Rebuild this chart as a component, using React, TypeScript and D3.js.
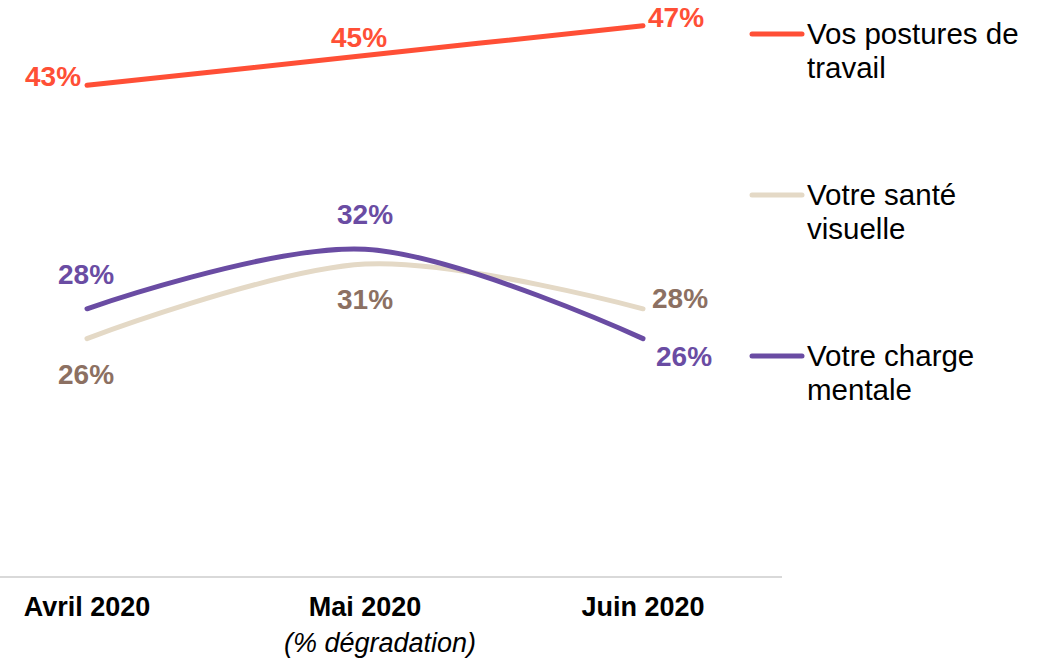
import React from "react";
import * as d3 from "d3";

const months = ["Avril 2020", "Mai 2020", "Juin 2020"];
const seriesNames = ["Vos postures de travail", "Votre santé visuelle", "Votre charge mentale"];
const postures = [43, 45, 47];
const santeVisuelle = [26, 31, 28];
const chargeMentale = [28, 32, 26];
const axisNote = "(% dégradation)";

const W = 1041;
const H = 659;
const FONT = "'Liberation Sans', Arial, Helvetica, sans-serif";

type Series = {
  name: string[];
  values: number[];
  line: string;
  label: string;
  offsets: [number, number][];
  legendY: number;
};

export default function App() {
  const x = d3.scalePoint<string>().domain(months).range([87, 643]);
  const y = d3.scaleLinear().domain([10, 50]).range([577, -19]);

  const series: Series[] = [
    {
      name: ["Vos postures de", "travail"],
      values: postures,
      line: "#FF4F36",
      label: "#FF4F36",
      offsets: [[-34, -9], [-6, -18], [33, -9]],
      legendY: 34,
    },
    {
      name: ["Votre santé", "visuelle"],
      values: santeVisuelle,
      line: "#E4D9C6",
      label: "#8C7062",
      offsets: [[-1, 36], [0, 35], [37, -11]],
      legendY: 195,
    },
    {
      name: ["Votre charge", "mentale"],
      values: chargeMentale,
      line: "#6A4CA3",
      label: "#6A4CA3",
      offsets: [[-1, -35], [0, -35], [41, 18]],
      legendY: 356,
    },
  ];
  void seriesNames;

  const lineGen = d3
    .line<number>()
    .x((_, i) => x(months[i]) as number)
    .y((d) => y(d))
    .curve(d3.curveCatmullRom.alpha(0));

  const order = [1, 2, 0];

  return (
    <svg
      width={W}
      height={H}
      style={{ position: "fixed", left: 0, top: 0, background: "#fff" }}
      fontFamily={FONT}
    >
      <line x1={0} x2={782} y1={y(10)} y2={y(10)} stroke="#D9D9D9" strokeWidth={2} />
      {months.map((m) => (
        <text
          key={m}
          x={x(m)}
          y={616}
          textAnchor="middle"
          fontSize={27}
          fontWeight="bold"
          fill="#000"
        >
          {m}
        </text>
      ))}
      <text x={x(months[1])! + 15} y={652} textAnchor="middle" fontSize={27} fontStyle="italic" fill="#000">
        {axisNote}
      </text>

      {order.map((si) => {
        const s = series[si];
        return (
          <path
            key={"l" + si}
            d={lineGen(s.values) || ""}
            fill="none"
            stroke={s.line}
            strokeWidth={5}
            strokeLinecap="round"
          />
        );
      })}

      {series.map((s, si) =>
        s.values.map((v, i) => (
          <text
            key={"t" + si + i}
            x={(x(months[i]) as number) + s.offsets[i][0]}
            y={y(v) + s.offsets[i][1]}
            dy="0.35em"
            textAnchor="middle"
            fontSize={28}
            fontWeight="bold"
            fill={s.label}
          >
            {v}%
          </text>
        ))
      )}

      {series.map((s, si) => (
        <g key={"lg" + si}>
          <line
            x1={752}
            x2={802}
            y1={s.legendY}
            y2={s.legendY}
            stroke={s.line}
            strokeWidth={5}
            strokeLinecap="round"
          />
          {s.name.map((t, j) => (
            <text key={j} x={807} y={s.legendY + 10 + j * 34} fontSize={29.5} fill="#000">
              {t}
            </text>
          ))}
        </g>
      ))}
    </svg>
  );
}
